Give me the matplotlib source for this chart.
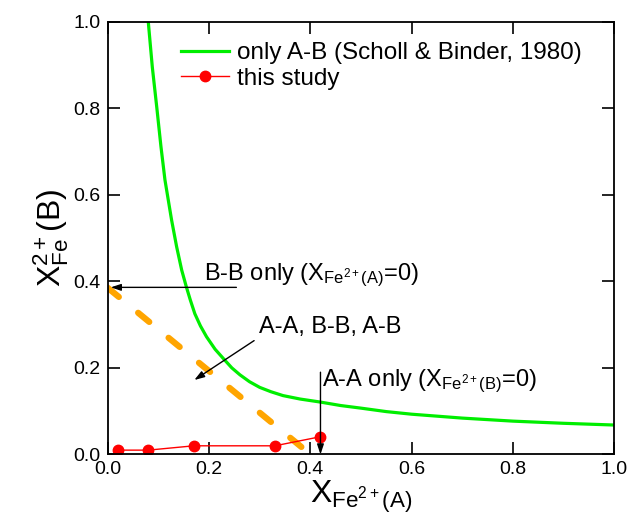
import numpy as np
import matplotlib
matplotlib.use("Agg")
import matplotlib.pyplot as plt

plt.rcParams['font.family'] = ['Liberation Sans', 'DejaVu Sans']
plt.rcParams['mathtext.fontset'] = 'custom'
plt.rcParams['mathtext.rm'] = 'Liberation Sans'
plt.rcParams['mathtext.it'] = 'Liberation Sans:italic'

# only A-B curve (Scholl & Binder, 1980)
ab_x = [0.080, 0.088, 0.097, 0.105, 0.113, 0.126, 0.136, 0.146, 0.155, 0.163,
        0.172, 0.183, 0.195, 0.212, 0.231, 0.245, 0.261, 0.280, 0.300, 0.322,
        0.346, 0.380, 0.420, 0.460, 0.500, 0.550, 0.600, 0.700, 0.800, 0.900,
        1.000]
ab_y = [1.000, 0.895, 0.800, 0.712, 0.634, 0.542, 0.480, 0.426, 0.388, 0.357,
        0.325, 0.297, 0.272, 0.243, 0.218, 0.200, 0.184, 0.168, 0.155, 0.145,
        0.136, 0.128, 0.121, 0.113, 0.107, 0.099, 0.093, 0.084, 0.077, 0.072,
        0.068]

# this study
study_x = [0.02, 0.08, 0.17, 0.33, 0.42]
study_y = [0.010, 0.010, 0.020, 0.020, 0.041]

# dashed boundary A-A, B-B, A-B
bound_x = [0.0, 0.39]
bound_y = [0.385, 0.01]

fig = plt.figure(figsize=(6.3, 5.26), dpi=100)
ax = fig.add_axes([0.171, 0.136, 0.804, 0.823])

ax.plot(bound_x, bound_y, color='#FFA500', lw=4.5, dashes=(2.3, 4.0),
        dash_capstyle='round')
ax.plot(ab_x, ab_y, color='#00EE00', lw=2.3, solid_joinstyle='round',
        label='only A-B (Scholl & Binder, 1980)')
ax.plot(study_x, study_y, color='red', lw=1, marker='o', ms=7.5,
        label='this study')

sub_a = r'X$_{\mathregular{Fe^{2+}(A)}}$'
sub_b = r'X$_{\mathregular{Fe^{2+}(B)}}$'
arrow = dict(arrowstyle='-|>,head_length=0.6,head_width=0.2', color='k',
             lw=1, shrinkA=0, shrinkB=0)

ax.annotate('', xy=(0.006, 0.386), xytext=(0.254, 0.386), arrowprops=arrow)
ax.text(0.19, 0.403, 'B-B only (' + sub_a + '=0)', fontsize=17)

ax.annotate('', xy=(0.171, 0.172), xytext=(0.289, 0.263), arrowprops=arrow)
ax.text(0.299, 0.28, 'A-A, B-B, A-B', fontsize=17)

ax.annotate('', xy=(0.42, 0.0), xytext=(0.42, 0.19), arrowprops=arrow)
ax.text(0.424, 0.158, 'A-A only (' + sub_b + '=0)', fontsize=17)

ax.set_xlim(0, 1)
ax.set_ylim(0, 1)
ax.set_xticks(np.arange(0, 1.01, 0.2))
ax.set_yticks(np.arange(0, 1.01, 0.2))
ax.set_xticklabels(['0.0', '0.2', '0.4', '0.6', '0.8', '1.0'])
ax.set_yticklabels(['0.0', '0.2', '0.4', '0.6', '0.8', '1.0'])
ax.tick_params(direction='in', length=8.5, width=1.2, top=True, right=True,
               labelsize=14, pad=5)
for s in ax.spines.values():
    s.set_linewidth(1.3)

ax.set_xlabel(r'X$_{\mathregular{Fe^{2+}(A)}}$', fontsize=23, labelpad=0)
ax.set_ylabel(r'X$_{\mathregular{Fe}}^{\mathregular{2+}}$(B)', fontsize=23,
              labelpad=2)

ax.legend(loc='upper left', bbox_to_anchor=(0.125, 0.975), frameon=False,
          fontsize=17.5, handlelength=2.0, handletextpad=0.3,
          labelspacing=0.15, borderaxespad=0)

fig.savefig('out.png', dpi=100)
